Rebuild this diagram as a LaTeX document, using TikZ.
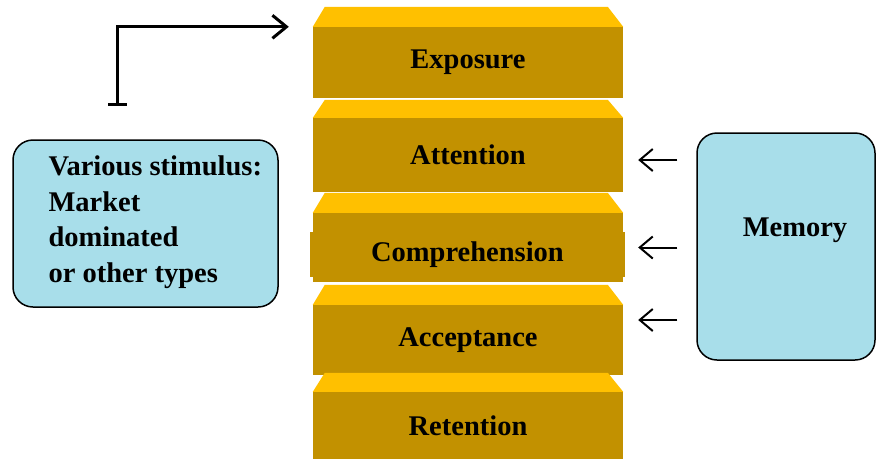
\documentclass[tikz,border=0pt]{standalone}
\usepackage{fontspec}
\setmainfont{Liberation Serif}
\usetikzlibrary{arrows.meta}

\definecolor{stepfront}{HTML}{C29100}
\definecolor{steptop}{HTML}{FFC000}
\definecolor{boxblue}{HTML}{A8DEEA}

\tikzset{
  steptext/.style={font=\fontsize{28.5}{35.5}\selectfont\bfseries},
  front/.style={steptext, fill=stepfront, minimum width=310pt, inner sep=0pt},
  topface/.style={fill=steptop},
  bluebox/.style={draw=black, line width=1.5pt, fill=boxblue, rounded corners=20pt},
  memarrow/.style={-{Straight Barb[length=13pt,width=22pt]}, line width=2pt,
    shorten <=19pt, shorten >=15pt},
  stimarrow/.style={{Bar[width=19pt]}-{Straight Barb[length=14pt,width=23pt]},
    line width=3pt, shorten >=24pt}
}

\begin{document}
\begin{tikzpicture}[x=1pt,y=-1pt]
    \useasboundingbox (0,0) rectangle (876,459);
    % the five steps, front faces
    \node[front, minimum height=71pt] (exp) at (468,62.5) {Exposure};
    \node[front, minimum height=74pt] (att) at (468,155) {Attention};
    \node[front, minimum height=69pt] (comp) at (468,247.5) {};
    \node[front, minimum height=70pt] (acc) at (468,340) {Acceptance};
    \node[front, minimum height=67pt] (ret) at (468,425.5) {Retention};
    % top faces
    \fill[topface] (exp.north west) -- ++(12,-20) -- ++(283,0) -- (exp.north east) -- cycle ;
    \fill[topface] (att.north west) -- ++(12,-18) -- ++(283,0) -- (att.north east) -- cycle ;
    \fill[topface] (comp.north west) -- ++(12,-20) -- ++(283,0) -- (comp.north east) -- cycle ;
    \fill[topface] (acc.north west) -- ++(12,-20) -- ++(283,0) -- (acc.north east) -- cycle ;
    \fill[topface] (ret.north west) -- ++(12,-19) -- ++(283,0) -- (ret.north east) -- cycle ;
    \node[front, minimum width=315pt, minimum height=45pt] (comptext) at (467.5,254.5) {Comprehension};
    % stimulus box
    \node[bluebox, minimum width=265pt, minimum height=167pt] (stim) at (145.5,223.5) {};
    \node[steptext, align=left, anchor=west] (stimtext) at (45,222)
         {Various stimulus:\\Market\\dominated\\or other types};
    \coordinate (stimout) at (117,106) ;
    \draw[stimarrow] (stimout) |- (exp.north west) ;
    % memory box
    \node[bluebox, minimum width=178pt, minimum height=227pt] (mem) at (786,246.5) {};
    \node[steptext] (memtext) at (795,230) {Memory};
    \coordinate (m1) at ([yshift=-5pt]att.east) ;
    \coordinate (m2) at (comp.east) ;
    \coordinate (m3) at ([yshift=20pt]acc.east) ;
    \draw[memarrow] (mem.west |- m1) -- (m1) ;
    \draw[memarrow] (mem.west |- m2) -- (m2) ;
    \draw[memarrow] (mem.west |- m3) -- (m3) ;
\end{tikzpicture}
\end{document}
